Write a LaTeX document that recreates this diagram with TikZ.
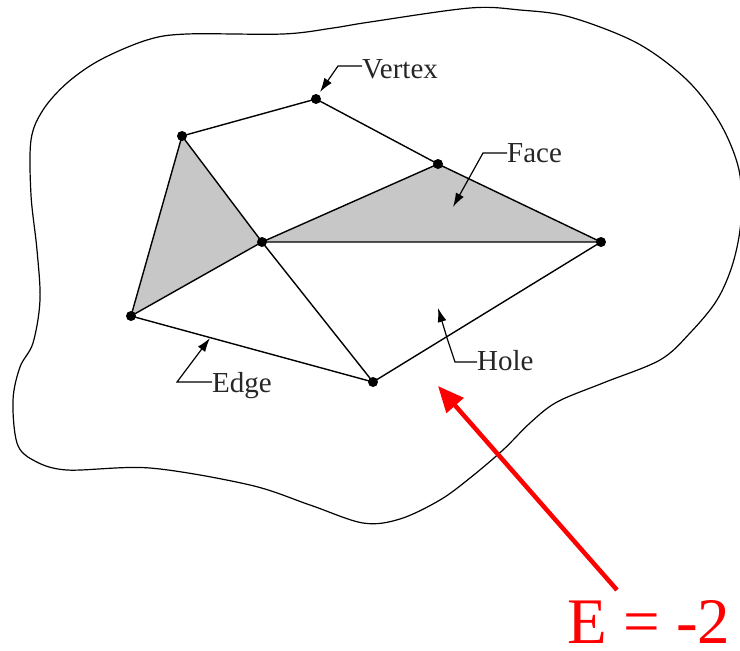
\documentclass[tikz,border=0pt]{standalone}
\usepackage{fontspec}
\setmainfont{Liberation Serif}
\usetikzlibrary{arrows.meta}
\begin{document}
\begin{tikzpicture}[x=1pt,y=-1pt,
  edgeline/.style={line width=1.4pt, black},
  vdot/.style={circle, fill=black, inner sep=0pt, minimum size=10pt},
  lead/.style={line width=1.2pt, black, -{Latex[length=14pt,width=9pt]}},
  lbl/.style={anchor=base west, inner sep=0pt, text=black!85, font=\fontsize{29}{32}\selectfont},
  facefill/.style={fill=black!22},
  blob/.style={line width=1.2pt, black}]
\useasboundingbox (0,0) rectangle (740,651);
% outer region
\draw[blob] plot[smooth cycle, tension=0.55] coordinates {
 (31,140) (43,110) (67,83) (100,60) (147,40) (187,34) (283,34) (333,28) (370,22)
 (470,8) (520,10) (570,17) (637,43) (687,80) (720,123) (739,170) (741,220)
 (733,263) (717,300) (690,333) (660,360) (603,383) (557,402) (530,423) (503,450)
 (470,478) (440,500) (400,519) (363,523) (310,505) (250,485) (150,468) (67,470)
 (33,460) (17,443) (13,400) (20,367) (33,343) (40,300) (37,250) (31,195)};
% vertices
\coordinate (v1) at (182,136);
\coordinate (v2) at (316,99);
\coordinate (v3) at (438,164);
\coordinate (v4) at (601,242);
\coordinate (v5) at (262,242);
\coordinate (v6) at (131,316);
\coordinate (v7) at (373,382);
% faces
\fill[facefill] (v1) -- (v5) -- (v6) -- cycle;
\fill[facefill] (v5) -- (v3) -- (v4) -- cycle;
% edges
\draw[edgeline] (v1) -- (v2) -- (v3) -- (v4);
\draw[edgeline] (v3) -- (v5) -- (v4) -- (v7) -- (v6) -- (v1) -- (v5) -- (v6);
\draw[edgeline] (v5) -- (v7);
% dots
\foreach \v in {v1,v2,v3,v4,v5,v6,v7} \node[vdot] at (\v) {};
% labels
\node[lbl] (tvertex) at (362,78) {Vertex};
\node[lbl] (tface) at (507,162) {Face};
\node[lbl] (tedge) at (212,392) {Edge};
\node[lbl] (thole) at (477,370) {Hole};
% leaders
\coordinate (a1) at (338,66);
\coordinate (a1t) at (320,92);
\draw[lead] (tvertex.west |- 0,66) -- (a1) -- (a1t);
\coordinate (a2) at (483,153);
\coordinate (a2t) at (453,207);
\draw[lead] (tface.west |- 0,153) -- (a2) -- (a2t);
\coordinate (a3) at (177,382);
\coordinate (a3t) at (210,338);
\draw[lead] (tedge.west |- 0,382) -- (a3) -- (a3t);
\coordinate (a4) at (455,362);
\coordinate (a4m) at (447,338);
\coordinate (a4t) at (438,308);
\draw[lead] (thole.west |- 0,362) -- (a4) -- (a4m) -- (a4t);
% red annotation
\node[anchor=base west, inner sep=0pt, text=red, font=\fontsize{65}{70}\selectfont] (eq) at (567,643) {E = -2};
\coordinate (rs) at (617,590);
\coordinate (rt) at (438,386);
\draw[red, line width=4.5pt, -{Triangle[length=26pt,width=22pt]}] (rs) -- (rt);
\end{tikzpicture}
\end{document}
